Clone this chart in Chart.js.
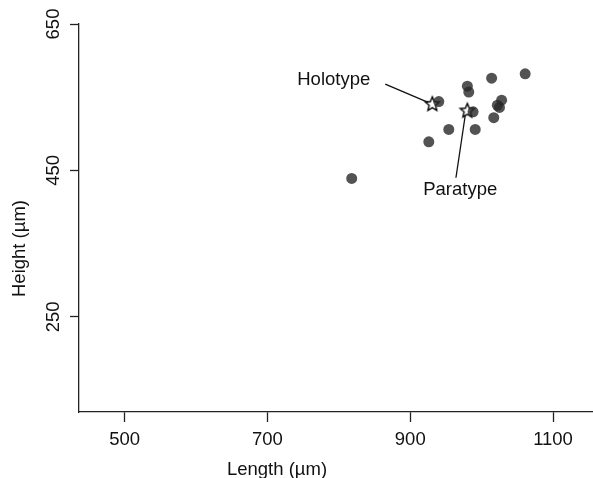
<!DOCTYPE html>
<html>
<head>
<meta charset="utf-8">
<script src="https://cdn.jsdelivr.net/npm/chart.js@4/dist/chart.umd.min.js"></script>
<style>
  html, body { margin: 0; padding: 0; background: #fff; }
  #wrap { width: 593px; height: 478px; }
</style>
</head>
<body>
<div id="wrap"><canvas id="chart"></canvas></div>
<script>
// specimen measurements (µm)
var lengths = [818, 926, 954, 991, 940, 980, 982, 1014, 1061, 1028, 1022, 1025, 1017, 988];
var heights = [439, 489, 506, 506, 544, 565, 557, 576, 582, 546, 539, 536, 522, 530];

// type specimens
var typeNames = ["Holotype", "Paratype"];
var typeLengths = [931, 980];
var typeHeights = [541, 532];

// label anchors (data units): text position and leader line start
var labelX = [844, 970];
var labelY = [574, 423];
var lineStartX = [865, 964];
var lineStartY = [568, 440];
var lineEndX = [925, 977];
var lineEndY = [543, 525];

var xTicks = [500, 700, 900, 1100];
var yTicks = [250, 450, 650];

var FONT = "'Liberation Sans', Arial, sans-serif";

// five-pointed open star marker
function makeStar() {
  var c = document.createElement("canvas");
  c.width = 20; c.height = 20;
  var g = c.getContext("2d");
  g.beginPath();
  for (var i = 0; i < 10; i++) {
    var r = i % 2 === 0 ? 7.5 : 3.4;
    var a = -Math.PI / 2 + i * Math.PI / 5;
    var px = 10 + r * Math.cos(a), py = 10.5 + r * Math.sin(a);
    if (i === 0) g.moveTo(px, py); else g.lineTo(px, py);
  }
  g.closePath();
  g.fillStyle = "#fff";
  g.fill();
  g.lineWidth = 1.4;
  g.lineJoin = "miter";
  g.strokeStyle = "#000";
  g.stroke();
  return c;
}

var specimenPoints = lengths.map(function(v, i) { return { x: v, y: heights[i] }; });
var typePoints = typeLengths.map(function(v, i) { return { x: v, y: typeHeights[i] }; });

var annotations = {
  id: "annotations",
  afterDatasetsDraw: function(chart) {
    var ctx = chart.ctx;
    var xs = chart.scales.x, ys = chart.scales.y;
    ctx.save();
    ctx.strokeStyle = "#111";
    ctx.lineWidth = 1.3;
    for (var i = 0; i < typeNames.length; i++) {
      ctx.beginPath();
      ctx.moveTo(xs.getPixelForValue(lineStartX[i]), ys.getPixelForValue(lineStartY[i]));
      ctx.lineTo(xs.getPixelForValue(lineEndX[i]), ys.getPixelForValue(lineEndY[i]));
      ctx.stroke();
    }
    ctx.fillStyle = "#111";
    ctx.font = "18.5px " + FONT;
    ctx.textBaseline = "middle";
    ctx.textAlign = "right";
    ctx.fillText(typeNames[0], xs.getPixelForValue(labelX[0]), ys.getPixelForValue(labelY[0]));
    ctx.textAlign = "center";
    ctx.fillText(typeNames[1], xs.getPixelForValue(labelX[1]), ys.getPixelForValue(labelY[1]));

    // axis titles
    ctx.textAlign = "center";
    ctx.fillText("Length (µm)", 277, 469.5);
    ctx.translate(20, 248.5);
    ctx.rotate(-Math.PI / 2);
    ctx.fillText("Height (µm)", 0, 0);
    ctx.restore();
  }
};

new Chart(document.getElementById("chart"), {
  type: "scatter",
  data: {
    datasets: [{
      label: "Specimens",
      data: specimenPoints,
      pointRadius: 5.5,
      pointBorderWidth: 0,
      backgroundColor: "rgba(40, 40, 40, 0.8)",
      borderColor: "rgba(0, 0, 0, 0)"
    }, {
      label: "Types",
      data: typePoints,
      pointStyle: makeStar(),
      pointRadius: 10
    }]
  },
  options: {
    responsive: true,
    maintainAspectRatio: false,
    animation: false,
    events: [],
    layout: { autoPadding: false, padding: { top: 24, right: 0, left: 0, bottom: 0 } },
    plugins: {
      legend: { display: false },
      tooltip: { enabled: false }
    },
    scales: {
      x: {
        type: "linear",
        min: 436,
        max: 1156,
        afterBuildTicks: function(scale) {
          scale.ticks = xTicks.map(function(v) { return { value: v }; });
        },
        afterFit: function(scale) { scale.height = 66; },
        grid: { drawOnChartArea: false, drawTicks: true, tickLength: 10, color: "#222", tickWidth: 1.3 },
        border: { display: true, color: "#222", width: 1.3 },
        ticks: {
          color: "#111", font: { family: FONT, size: 18.5 }, padding: 7, maxRotation: 0, autoSkip: false,
          callback: function(v) { return String(v); }
        }
      },
      y: {
        type: "linear",
        min: 120,
        max: 650,
        afterBuildTicks: function(scale) {
          scale.ticks = yTicks.map(function(v) { return { value: v }; });
        },
        afterFit: function(scale) { scale.width = 79; },
        grid: { drawOnChartArea: false, drawTicks: true, tickLength: 9, color: "#222", tickWidth: 1.3 },
        border: { display: true, color: "#222", width: 1.3 },
        ticks: {
          color: "#111", font: { family: FONT, size: 18.5 }, padding: 1,
          minRotation: 90, maxRotation: 90, crossAlign: "center", autoSkip: false,
          callback: function(v) { return String(v); }
        }
      }
    }
  },
  plugins: [annotations]
});
</script>
</body>
</html>
